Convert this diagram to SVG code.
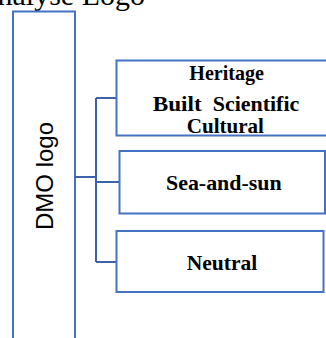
<svg xmlns="http://www.w3.org/2000/svg" width="326" height="338" viewBox="0 0 326 338">
<style>
.box{fill:#fff;stroke:#4472C4;stroke-width:2}
.conn{fill:none;stroke:#3B62AB;stroke-width:2}
.lbl{font-family:"Liberation Serif",serif;font-weight:bold;font-size:22px;fill:#000}
.title{font-family:"Liberation Serif",serif;font-size:30px;fill:#000}
.dmo{font-family:"Liberation Sans",Arial,sans-serif;font-size:24px;fill:#000}
</style>
<rect width="326" height="338" fill="#fff"/>
<text class="title" x="145" y="5" text-anchor="end">Analyse Logo</text>
<g id="dmo">
<rect class="box" x="13" y="11.5" width="62" height="340"/>
<text class="dmo" transform="translate(53,176) rotate(-90)" text-anchor="middle">DMO logo</text>
</g>
<g id="connectors">
<path class="conn" d="M75 177H96M96 98V262M96 98H116.5M96 182H119.5M96 262H116.5"/>
</g>
<g id="heritage">
<rect class="box" x="116.5" y="60.5" width="215" height="75"/>
<text class="lbl" x="189.3" y="79.5" textLength="74.7" lengthAdjust="spacingAndGlyphs">Heritage</text>
<text class="lbl" x="152.7" y="110.5" textLength="49" lengthAdjust="spacingAndGlyphs">Built</text>
<text class="lbl" x="212.7" y="110.5" textLength="86.6" lengthAdjust="spacingAndGlyphs">Scientific</text>
<text class="lbl" x="186.7" y="133" textLength="77.3" lengthAdjust="spacingAndGlyphs">Cultural</text>
</g>
<g id="sea">
<rect class="box" x="119.5" y="151" width="205.5" height="62.5"/>
<text class="lbl" x="166" y="189.5" textLength="115.7" lengthAdjust="spacingAndGlyphs">Sea-and-sun</text>
</g>
<g id="neutral">
<rect class="box" x="116.5" y="231" width="207" height="61"/>
<text class="lbl" x="186.7" y="269.5" textLength="70.6" lengthAdjust="spacingAndGlyphs">Neutral</text>
</g>
</svg>
